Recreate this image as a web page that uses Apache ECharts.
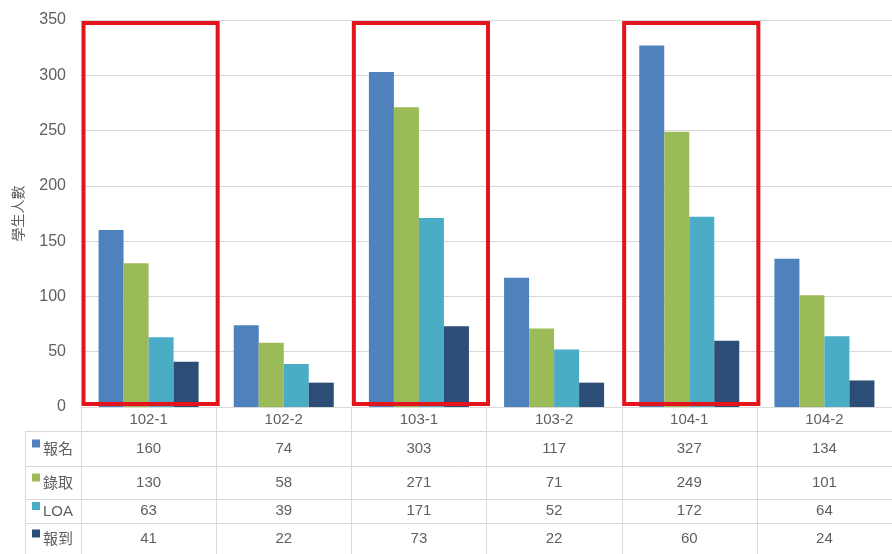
<!DOCTYPE html>
<html>
<head>
<meta charset="utf-8">
<script src="https://cdn.jsdelivr.net/npm/echarts@6/dist/echarts.min.js"></script>
<style>
html,body{margin:0;padding:0;background:#fff;}
#c{width:892px;height:554px;}
</style>
</head>
<body>
<div id="c"></div>
<script>
const categories = ['102-1','102-2','103-1','103-2','104-1','104-2'];
const seriesNames = ['報名','錄取','LOA','報到'];
const signup = [160,74,303,117,327,134];
const admitted = [130,58,271,71,249,101];
const loa = [63,39,171,52,172,64];
const enrolled = [41,22,73,22,60,24];
const highlighted = ['102-1','103-1','104-1'];
const yMin = 0, yMax = 350, yInterval = 50;
const yAxisName = '學生人數';

const seriesData = [signup, admitted, loa, enrolled];
const colors = ['#4F81BD','#9BBB59','#4BACC6','#2C4D75'];
const textColor = '#5f5f5f';
const lineColor = '#D9D9D9';
const font = '"Liberation Sans", "Noto Sans CJK TC", sans-serif';

const chart = echarts.init(document.getElementById('c'));
chart.setOption({
  animation: false,
  grid: {left: 81, right: 0, top: 20, bottom: 147, containLabel: false},
  xAxis: {
    type: 'category', data: categories,
    axisLine: {show: true, lineStyle: {color: lineColor}},
    axisTick: {show: false},
    axisLabel: {color: textColor, fontSize: 15, fontFamily: font, margin: 5}
  },
  yAxis: {
    type: 'value', min: yMin, max: yMax, interval: yInterval,
    name: yAxisName, nameLocation: 'middle', nameGap: 55, nameRotate: 90,
    nameTextStyle: {color: textColor, fontSize: 14, fontFamily: font},
    axisLine: {show: false}, axisTick: {show: false},
    axisLabel: {color: textColor, fontSize: 16, fontFamily: font, margin: 15},
    splitLine: {lineStyle: {color: lineColor}}
  },
  series: seriesNames.map((n, i) => ({
    name: n, type: 'bar', data: seriesData[i],
    barGap: 0, barCategoryGap: '26%',
    itemStyle: {color: colors[i]}
  }))
});

function drawExtras() {
  const centers = categories.map(c => chart.convertToPixel({xAxisIndex: 0}, c));
  const bw = centers.length > 1 ? centers[1] - centers[0] : 100;
  const y0 = chart.convertToPixel({yAxisIndex: 0}, yMin);
  const yTop = chart.convertToPixel({yAxisIndex: 0}, yMax);
  const W = chart.getWidth(), H = chart.getHeight();
  const tableLeft = 25;
  const rowLines = [431, 466, 499, 523];
  const rowBounds = [431, 466, 499, 523, H];
  const els = [];
  // vertical lines between categories
  for (let i = 0; i < centers.length; i++) {
    const x = Math.round(centers[i] - bw / 2) + 0.5;
    els.push({type: 'line', silent: true, shape: {x1: x, y1: y0, x2: x, y2: H},
      style: {stroke: lineColor, lineWidth: 1}});
  }
  // table left line
  els.push({type: 'line', silent: true, shape: {x1: tableLeft + 0.5, y1: rowLines[0], x2: tableLeft + 0.5, y2: H},
    style: {stroke: lineColor, lineWidth: 1}});
  rowLines.forEach(y => {
    els.push({type: 'line', silent: true, shape: {x1: tableLeft, y1: y + 0.5, x2: W, y2: y + 0.5},
      style: {stroke: lineColor, lineWidth: 1}});
  });
  // rows
  seriesNames.forEach((n, r) => {
    const yc = (rowBounds[r] + rowBounds[r + 1]) / 2;
    els.push({type: 'rect', silent: true, shape: {x: 32, y: yc - 9, width: 8, height: 8},
      style: {fill: colors[r]}});
    els.push({type: 'text', silent: true, x: 43, y: yc + 1,
      style: {text: n, fill: textColor, fontSize: 15, fontFamily: font, align: 'left', verticalAlign: 'middle'}});
    seriesData[r].forEach((v, i) => {
      els.push({type: 'text', silent: true, x: centers[i], y: yc,
        style: {text: String(v), fill: textColor, fontSize: 15, fontFamily: font, align: 'center', verticalAlign: 'middle'}});
    });
  });
  // highlight rectangles
  highlighted.forEach(c => {
    const cx = chart.convertToPixel({xAxisIndex: 0}, c);
    els.push({type: 'rect', silent: true, z: 100,
      shape: {x: cx - bw / 2 + 2.5, y: yTop + 3, width: bw - 1, height: y0 - yTop - 6},
      style: {fill: 'none', stroke: '#E3141B', lineWidth: 4}});
  });
  chart.setOption({graphic: els});
}
drawExtras();
</script>
</body>
</html>
